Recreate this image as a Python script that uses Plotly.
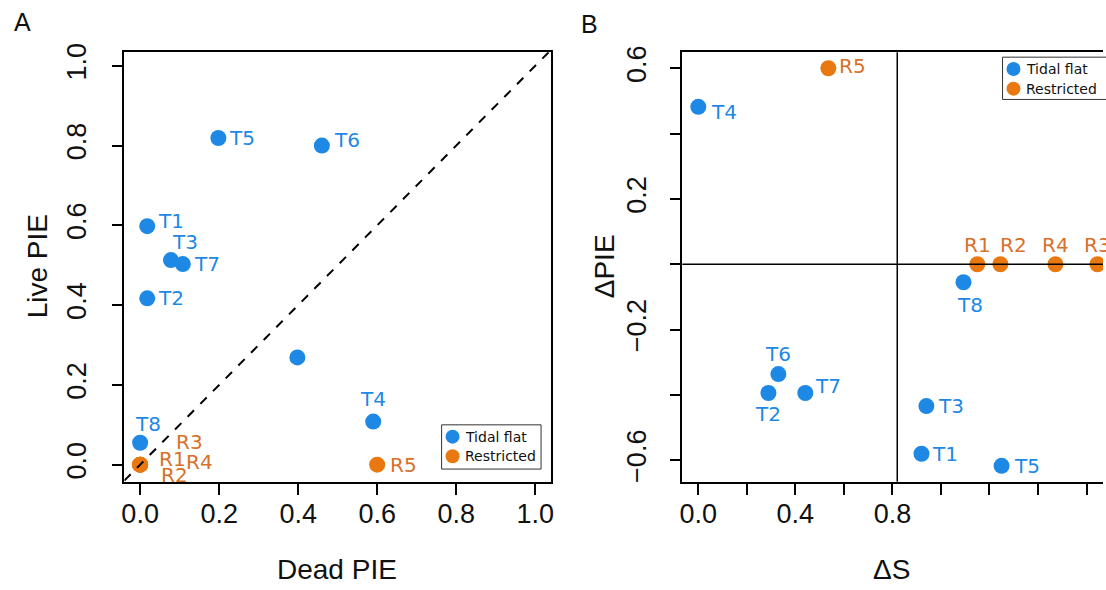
import plotly.graph_objects as go

# ---------------- data ----------------
# Panel A: live vs dead PIE per site
tidal_sites = ["T1", "T2", "T3", "T4", "T5", "T6", "T7", "T8", ""]
tidal_dead_pie = [0.018, 0.018, 0.078, 0.590, 0.198, 0.460, 0.108, 0.000, 0.398]
tidal_live_pie = [0.598, 0.417, 0.513, 0.108, 0.819, 0.800, 0.503, 0.055, 0.269]

restricted_sites = ["R1", "R2", "R3", "R4", "R5"]
restricted_dead_pie = [0.0, 0.0, 0.0, 0.0, 0.600]
restricted_live_pie = [0.0, 0.0, 0.0, 0.0, 0.000]

# Panel B: change in PIE vs change in S
tidal_sites_b = ["T1", "T2", "T3", "T4", "T5", "T6", "T7", "T8"]
tidal_delta_s = [0.920, 0.289, 0.940, 0.000, 1.250, 0.330, 0.441, 1.093]
tidal_delta_pie = [-0.580, -0.394, -0.434, 0.482, -0.617, -0.336, -0.394, -0.055]

restricted_delta_s = [1.150, 1.245, 1.645, 1.472, 0.536]
restricted_delta_pie = [0.0, 0.0, 0.0, 0.0, 0.600]

delta_s_ref = 0.82
delta_pie_ref = 0.0

ticks_a = [0.0, 0.2, 0.4, 0.6, 0.8, 1.0]
ticks_b_x = [0.0, 0.2, 0.4, 0.6, 0.8, 1.0, 1.2, 1.4, 1.6]
ticks_b_y = [-0.6, -0.4, -0.2, 0.0, 0.2, 0.4, 0.6]

# ---------------- styling ----------------
W, H = 1106, 590
BLUE = "#1E88E5"
ORANGE = "#E8780F"
LABEL_ORANGE = "#D9702A"
TICK_FONT = dict(family="Liberation Sans, Arial", size=27, color="#111111")
TITLE_FONT = dict(family="Liberation Sans, Arial", size=28, color="#111111")
LABEL_FONT = "DejaVu Sans, Verdana"
MSIZE = 16
TOP, BOTTOM = 44, 481

# label offsets (pixels) for the point labels
shift_a = {
    "T1": (24, 5), "T2": (24, 0), "T3": (14, 18), "T4": (0, 23), "T5": (24, 0),
    "T6": (25, 6), "T7": (24, 0), "T8": (8, 19),
    "R1": (32, 6), "R2": (34, -10), "R3": (49, 23), "R4": (59, 3), "R5": (26, 0),
}
shift_b = {
    "T1": (23, 0), "T2": (0, -21), "T3": (25, 0), "T4": (26, -5), "T5": (25, 0),
    "T6": (0, 20), "T7": (23, 7), "T8": (7, -23),
    "R1": (0, 19), "R2": (13, 19), "R3": (0, 19), "R4": (0, 19), "R5": (24, 2),
}


def px(x):
    return x / W


def py(y):
    return (H - y) / H


fig = go.Figure()

# panel A markers
fig.add_trace(go.Scatter(x=tidal_dead_pie, y=tidal_live_pie, mode="markers",
                         marker=dict(color=BLUE, size=MSIZE), xaxis="x", yaxis="y",
                         showlegend=False, cliponaxis=False))
fig.add_trace(go.Scatter(x=restricted_dead_pie, y=restricted_live_pie, mode="markers",
                         marker=dict(color=ORANGE, size=MSIZE), xaxis="x", yaxis="y",
                         showlegend=False, cliponaxis=False))
# panel B markers
fig.add_trace(go.Scatter(x=tidal_delta_s, y=tidal_delta_pie, mode="markers",
                         marker=dict(color=BLUE, size=MSIZE), xaxis="x2", yaxis="y2",
                         showlegend=False))
fig.add_trace(go.Scatter(x=restricted_delta_s, y=restricted_delta_pie, mode="markers",
                         marker=dict(color=ORANGE, size=MSIZE), xaxis="x2", yaxis="y2",
                         showlegend=False))

annotations = []


def add_labels(names, xs, ys, color, shifts, xref, yref):
    for n, xv, yv in zip(names, xs, ys):
        if not n:
            continue
        dx, dy = shifts[n]
        annotations.append(dict(x=xv, y=yv, xref=xref, yref=yref, text=n, showarrow=False,
                                xshift=dx, yshift=dy, xanchor="center", yanchor="middle",
                                font=dict(family=LABEL_FONT, size=20, color=color)))


add_labels(tidal_sites, tidal_dead_pie, tidal_live_pie, BLUE, shift_a, "x", "y")
add_labels(restricted_sites, restricted_dead_pie, restricted_live_pie, LABEL_ORANGE, shift_a, "x", "y")
add_labels(tidal_sites_b, tidal_delta_s, tidal_delta_pie, BLUE, shift_b, "x2", "y2")
add_labels(restricted_sites, restricted_delta_s, restricted_delta_pie, LABEL_ORANGE, shift_b, "x2", "y2")


def paper_text(x, y, text, font, angle=0):
    annotations.append(dict(x=px(x), y=py(y), xref="paper", yref="paper", text=text,
                            showarrow=False, xanchor="center", yanchor="middle",
                            textangle=angle, font=font))


# panel letters and axis titles
letter_font = dict(family="Liberation Sans, Arial", size=25, color="#111111")
paper_text(20, 13, "A", letter_font)
paper_text(590, 15, "B", letter_font)
paper_text(336, 570, "Dead PIE", TITLE_FONT)
paper_text(35, 262, "Live PIE", TITLE_FONT, -90)
paper_text(893, 570, "ΔS", TITLE_FONT)
paper_text(605, 262, "ΔPIE", TITLE_FONT, -90)

shapes = [
    # 1:1 line in panel A
    dict(type="line", xref="x", yref="y", x0=-0.04, y0=-0.04, x1=1.034, y1=1.034,
         line=dict(color="black", width=2, dash="dash")),
    # reference lines in panel B
    dict(type="line", xref="x2", yref="paper", x0=delta_s_ref, x1=delta_s_ref,
         y0=py(BOTTOM), y1=py(TOP), line=dict(color="black", width=1.5)),
    dict(type="line", xref="paper", yref="y2", x0=px(683), x1=1, y0=delta_pie_ref,
         y1=delta_pie_ref, line=dict(color="black", width=1.5)),
]


def legend_box(x0, y0, x1, y1):
    shapes.append(dict(type="rect", xref="paper", yref="paper", x0=px(x0), x1=px(x1),
                       y0=py(y1), y1=py(y0), line=dict(color="#333333", width=1),
                       fillcolor="white", layer="above"))
    for cy, col, txt in [(y0 + 12, BLUE, "Tidal flat"), (y0 + 32, ORANGE, "Restricted")]:
        shapes.append(dict(type="circle", xref="paper", yref="paper", xsizemode="pixel",
                           ysizemode="pixel", xanchor=px(x0 + 11), yanchor=py(cy),
                           x0=-7, x1=7, y0=-7, y1=7, fillcolor=col, line=dict(width=0),
                           layer="above"))
        annotations.append(dict(x=px(x0 + 22), y=py(cy), xref="paper", yref="paper",
                                text=txt, showarrow=False, xanchor="left", yanchor="middle",
                                font=dict(family=LABEL_FONT, size=14, color="#111111")))


legend_box(441, 423, 541, 468)
legend_box(1005, 49, 1125, 92)

axis_common = dict(showgrid=False, zeroline=False, showline=True, linecolor="black",
                   linewidth=1.5, ticks="outside", ticklen=11, tickwidth=1.5,
                   tickcolor="black", tickfont=TICK_FONT)

fig.update_layout(
    width=W, height=H,
    margin=dict(l=0, r=0, t=0, b=0),
    paper_bgcolor="white", plot_bgcolor="white",
    showlegend=False,
    xaxis=dict(domain=[px(122), px(551)], range=[-0.04, 1.04], tickvals=ticks_a,
               ticktext=[f"{v:.1f}" for v in ticks_a], mirror=True, ticklabelstandoff=-4,
               anchor="y", **axis_common),
    yaxis=dict(domain=[py(BOTTOM), py(TOP)], range=[-0.043, 1.034], tickvals=ticks_a,
               ticktext=[f"{v:.1f}" for v in ticks_a], mirror=True, tickangle=-90,
               ticklabelstandoff=15, anchor="x", **axis_common),
    xaxis2=dict(domain=[px(683), 1.0], range=[-0.066, 1.668], tickvals=ticks_b_x,
                ticktext=[f"{v:.1f}" if round(v * 10) % 4 == 0 and v < 1.0 else "" for v in ticks_b_x],
                mirror=True, ticklabelstandoff=-4, anchor="y2", **axis_common),
    yaxis2=dict(domain=[py(BOTTOM), py(TOP)], range=[-0.666, 0.649], tickvals=ticks_b_y,
                ticktext=[("\u2212" if v < 0 else "") + f"{abs(v):.1f}" if round(abs(v) * 10) in (2, 6) else ""
                          for v in ticks_b_y],
                tickangle=-90, ticklabelstandoff=13, anchor="x2", **axis_common),
    shapes=shapes,
    annotations=annotations,
)

fig.write_html("out.html")
